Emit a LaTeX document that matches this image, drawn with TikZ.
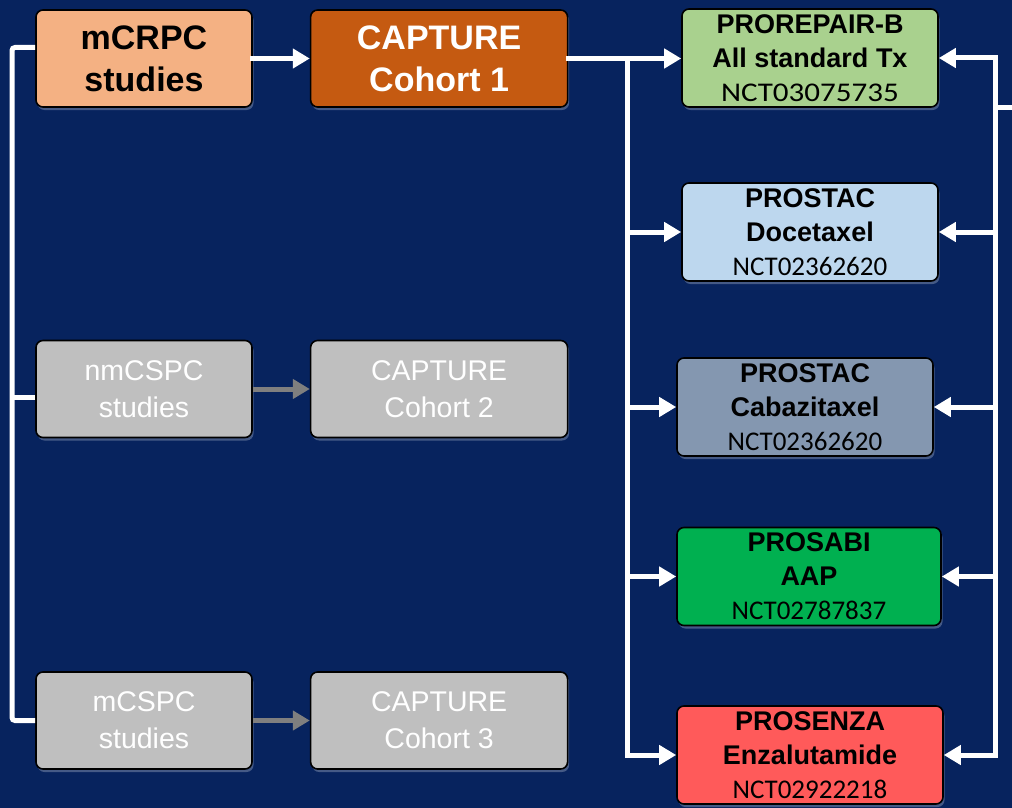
\documentclass[tikz,border=0pt]{standalone}
\usepackage{fontspec}
\setmainfont{Liberation Sans}
\newfontfamily\nctfont{Carlito}
\usetikzlibrary{positioning,arrows.meta,shadows}
\definecolor{navy}{HTML}{07235E}
\definecolor{peach}{HTML}{F4B183}
\definecolor{rust}{HTML}{C55A11}
\definecolor{greyfill}{HTML}{BFBFBF}
\definecolor{greyarrow}{HTML}{7F7F7F}
\definecolor{sage}{HTML}{A9D18E}
\definecolor{paleblue}{HTML}{BDD7EE}
\definecolor{slate}{HTML}{8497B0}
\definecolor{brightgreen}{HTML}{00B050}
\definecolor{salmon}{HTML}{FF5A5A}
\newcommand{\bigbold}{\fontsize{34}{42}\selectfont\bfseries}
\newcommand{\greytext}{\fontsize{28.5}{37}\selectfont}
\newcommand{\trialfont}{\fontsize{27}{34}\selectfont\bfseries}
\newcommand{\nct}[1]{{\nctfont\mdseries #1}}
\newcommand{\nctwide}[1]{{\nctfont\mdseries\addfontfeature{FakeStretch=1.15}#1}}

\begin{document}
\begin{tikzpicture}[x=1pt,y=-1pt,
  box/.style={draw=black,line width=1.6pt,rounded corners=7pt,inner sep=0pt,
    align=center,minimum height=97pt,
    drop shadow={fill=white,opacity=.25,shadow xshift=1.5pt,shadow yshift=-3pt}},
  studybox/.style={box,minimum width=216pt},
  cohortbox/.style={box,minimum width=257pt},
  trialbox/.style={box,minimum height=98pt,font=\trialfont},
  wline/.style={draw=white,line width=5pt,line cap=rect},
  warrow/.style={wline,-{Triangle[length=17pt,width=19pt]}},
  garrow/.style={draw=greyarrow,line width=5pt,-{Triangle[length=17pt,width=19pt]}}]
  \fill[navy] (0,0) rectangle (1012,808);
  \useasboundingbox (0,0) rectangle (1012,808);
  % studies and cohorts
  \node[studybox,fill=peach,font=\bigbold] (mcrpc) at (144,58.5) {mCRPC\\studies};
  \node[cohortbox,fill=rust,text=white,font=\bigbold,right=57pt of mcrpc] (cap1) {CAPTURE\\Cohort 1};
  \node[studybox,fill=greyfill,text=white,font=\greytext] (nmcspc) at (144,389) {nmCSPC\\studies};
  \node[cohortbox,fill=greyfill,text=white,font=\greytext,right=57pt of nmcspc] (cap2) {CAPTURE\\Cohort 2};
  \node[studybox,fill=greyfill,text=white,font=\greytext] (mcspc) at (144,720.5) {mCSPC\\studies};
  \node[cohortbox,fill=greyfill,text=white,font=\greytext,right=57pt of mcspc] (cap3) {CAPTURE\\Cohort 3};
  % trials
  \node[trialbox,fill=sage,minimum width=256pt] (repair) at (810,58) {PROREPAIR-B\\All standard Tx\\\nctwide{NCT03075735}};
  \node[trialbox,fill=paleblue,minimum width=256pt] (docet) at (810,232) {PROSTAC\\Docetaxel\\\nct{NCT02362620}};
  \node[trialbox,fill=slate,minimum width=256pt] (cabazi) at (805,407) {PROSTAC\\Cabazitaxel\\\nct{NCT02362620}};
  \node[trialbox,fill=brightgreen,minimum width=264pt] (sabi) at (809,576.5) {PROSABI\\AAP\\\nct{NCT02787837}};
  \node[trialbox,fill=salmon,minimum width=266pt] (enza) at (810,755) {PROSENZA\\Enzalutamide\\\nct{NCT02922218}};
  % left bracket
  \coordinate (lbar) at (12,400);
  \coordinate (nmlink) at ([yshift=-8pt]nmcspc.west);
  \draw[wline,line cap=butt,rounded corners=3pt] ([yshift=11pt]mcrpc.west) -| (lbar) |- (mcspc.west);
  \draw[wline,line cap=butt] (nmlink) -- (lbar |- nmlink);
  % study -> cohort
  \draw[warrow] (mcrpc) -- (cap1);
  \draw[garrow] (nmcspc) -- (cap2);
  \draw[garrow] (mcspc) -- (cap3);
  % cohort 1 -> trials
  \coordinate (split) at ([xshift=59pt]cap1.east);
  \draw[warrow] (cap1.east) -- (cap1.east -| repair.west);
  \draw[wline] (split) -- (split |- enza.west);
  \foreach \n in {docet,cabazi,sabi,enza}
    \draw[warrow] (split |- \n.west) -- (\n.west);
  % right bracket
  \coordinate (rbar) at (995,0);
  \coordinate (offpage) at (1012,107);
  \draw[wline] (rbar |- repair.east) -- (rbar |- enza.east);
  \foreach \n in {repair,docet,cabazi,sabi,enza}
    \draw[warrow] (rbar |- \n.east) -- (\n.east);
  \draw[wline] (rbar |- offpage) -- (offpage);
\end{tikzpicture}
\end{document}
